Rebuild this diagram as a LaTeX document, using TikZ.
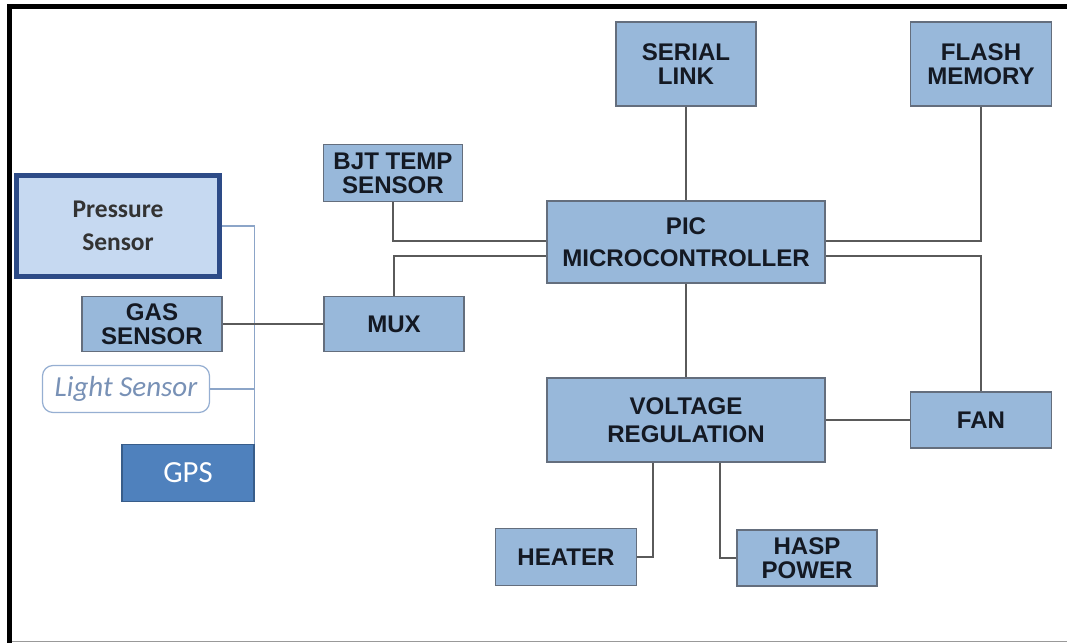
\documentclass[tikz,border=0pt]{standalone}
\usepackage{fontspec}
\setmainfont{Liberation Sans}
\newfontfamily\calib{Carlito}
\usetikzlibrary{positioning}
\definecolor{boxfill}{RGB}{152,184,218}
\definecolor{boxline}{RGB}{100,110,125}
\definecolor{boxtext}{RGB}{20,25,35}
\definecolor{pressfill}{RGB}{198,217,241}
\definecolor{pressline}{RGB}{45,75,135}
\definecolor{gpsfill}{RGB}{79,129,189}
\definecolor{gpsline}{RGB}{56,93,138}
\definecolor{lightline}{RGB}{150,175,210}
\definecolor{lighttext}{RGB}{120,145,182}
\definecolor{wire}{RGB}{90,90,90}
\definecolor{buswire}{RGB}{140,165,200}

\begin{document}
\begin{tikzpicture}[x=0.02cm,y=-0.02cm,
  box/.style={draw=boxline,fill=boxfill,line width=0.9pt,inner sep=0pt,align=center,
    text=boxtext,font=\fontsize{13.7}{13.5}\selectfont\bfseries},
  sensorbox/.style={draw=pressline,fill=pressfill,line width=2.3pt,inner sep=0pt,align=center,
    text=black!80,font=\calib\fontsize{14.5}{19}\selectfont\bfseries},
  lightbox/.style={draw=lightline,fill=white,line width=0.7pt,rounded corners=6pt,inner sep=0pt,
    text=lighttext,font=\calib\fontsize{16.5}{18}\selectfont\itshape},
  gpsbox/.style={draw=gpsline,fill=gpsfill,line width=0.9pt,inner sep=0pt,
    text=white,font=\calib\fontsize{17.5}{18}\selectfont},
  wire/.style={draw=wire,line width=1.3pt},
  bus/.style={draw=buswire,line width=0.8pt}]
\useasboundingbox (0,0) rectangle (1067,643);
\draw[line width=2.8pt] (7,6.5)--(1067,6.5);
\draw[line width=2.8pt] (9.5,4)--(9.5,643);
\draw[black!40,line width=0.9pt] (12,641.5)--(1067,641.5);

\node[box,minimum width=140*0.02cm,minimum height=84*0.02cm] (serial) at (686,64) {SERIAL\\LINK};
\node[box,minimum width=141*0.02cm,minimum height=84*0.02cm] (flash) at (981,64) {FLASH\\MEMORY};
\node[box,minimum width=139*0.02cm,minimum height=57*0.02cm] (bjt) at (393,173) {BJT TEMP\\SENSOR};
\node[box,minimum width=278*0.02cm,minimum height=82*0.02cm] (pic) at (686,242) {PIC\\[5pt]MICROCONTROLLER};
\node[sensorbox,minimum width=203*0.02cm,minimum height=101*0.02cm] (press) at (118,226) {Pressure\\Sensor};
\node[box,minimum width=140*0.02cm,minimum height=55*0.02cm] (gas) at (152,324) {GAS\\SENSOR};
\node[box,minimum width=140*0.02cm,minimum height=55*0.02cm] (mux) at (394,324) {MUX};
\node[lightbox,minimum width=167*0.02cm,minimum height=47*0.02cm] (light) at (126,389) {Light Sensor};
\node[gpsbox,minimum width=132*0.02cm,minimum height=57*0.02cm] (gps) at (188,473) {GPS};
\node[box,minimum width=278*0.02cm,minimum height=84*0.02cm] (volt) at (686,420) {VOLTAGE\\[2.5pt]REGULATION};
\node[box,minimum width=141*0.02cm,minimum height=56*0.02cm] (fan) at (981,420) {FAN};
\node[box,minimum width=141*0.02cm,minimum height=57*0.02cm] (heater) at (566,557) {HEATER};
\node[box,minimum width=140*0.02cm,minimum height=56*0.02cm] (hasp) at (807,558) {HASP\\POWER};

\draw[wire] (serial.south)--(pic.north);
\draw[wire] (bjt.south) |- ([yshift=0.5pt]pic.west);
\draw[wire] (mux.north) |- ([yshift=-7.9pt]pic.west);
\draw[wire] (flash.south) |- ([yshift=0.5pt]pic.east);
\draw[wire] (fan.north) |- ([yshift=-7.9pt]pic.east);
\draw[wire] (pic.south)--(volt.north);
\draw[wire] (volt.east)--(fan.west);
\draw[wire] ([xshift=-18.7pt]volt.south) |- (heater.east);
\draw[wire] ([xshift=19.3pt]volt.south) |- (hasp.west);
\draw[bus] (press.east) -| (gps.north east);
\draw[bus] (light.east)--(light.east -| gps.north east);
\draw[wire] (gas.east)--(mux.west);
\end{tikzpicture}
\end{document}
